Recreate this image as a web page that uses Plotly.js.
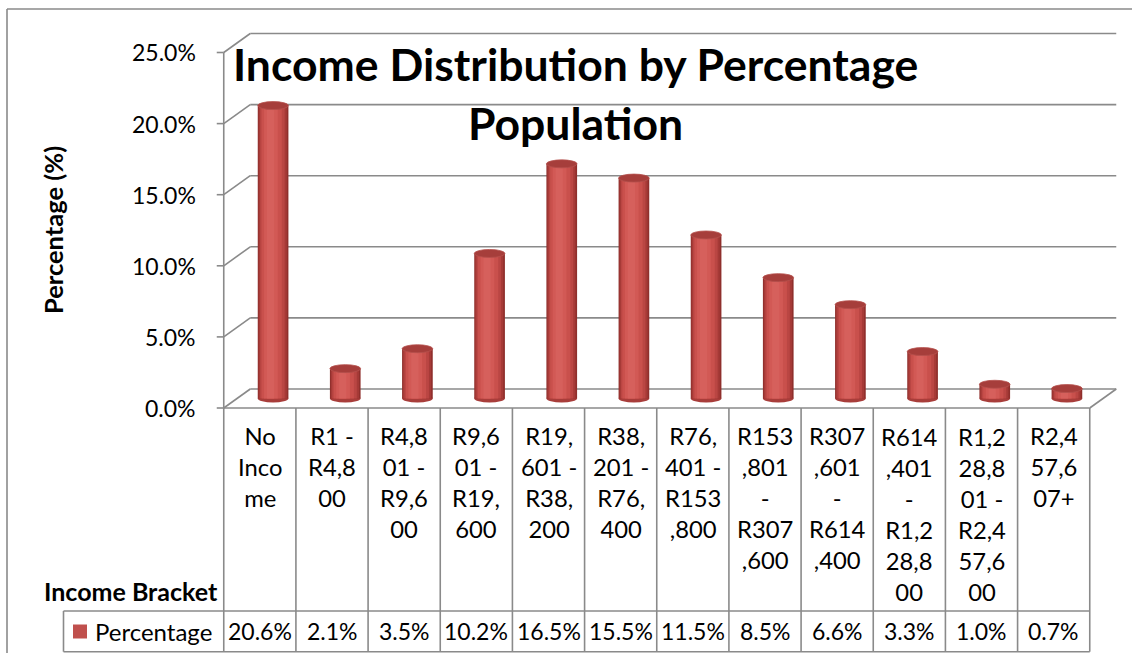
<!DOCTYPE html>
<html>
<head>
<meta charset="utf-8">
<script src="https://cdn.plot.ly/plotly-3.0.1.min.js"></script>
<style>html,body{margin:0;padding:0;background:#fff;}#chart{width:1132px;height:653px;}</style>
</head>
<body>
<div id="chart"></div>
<script>
// ---- data ----
const categories = ["No Income","R1 - R4,800","R4,801 - R9,600","R9,601 - R19,600","R19,601 - R38,200","R38,201 - R76,400","R76,401 - R153,800","R153,801 - R307,600","R307,601 - R614,400","R614,401 - R1,228,800","R1,228,801 - R2,457,600","R2,457,607+"];
const tickLabels = ["No<br>Inco<br>me","R1 -<br>R4,8<br>00","R4,8<br>01 -<br>R9,6<br>00","R9,6<br>01 -<br>R19,<br>600","R19,<br>601 -<br>R38,<br>200","R38,<br>201 -<br>R76,<br>400","R76,<br>401 -<br>R153<br>,800","R153<br>,801<br>-<br>R307<br>,600","R307<br>,601<br>-<br>R614<br>,400","R614<br>,401<br>-<br>R1,2<br>28,8<br>00","R1,2<br>28,8<br>01 -<br>R2,4<br>57,6<br>00","R2,4<br>57,6<br>07+"];
const percentages = [20.6, 2.1, 3.5, 10.2, 16.5, 15.5, 11.5, 8.5, 6.6, 3.3, 1.0, 0.7];
const yTicks = [0, 5, 10, 15, 20, 25];
const seriesName = "Percentage";

// ---- layout geometry ----
const W = 1132, H = 653;
const L = 237, R = 29, T = 43, B = 245;
const plotW = W - L - R, plotH = H - T - B;
const Y0 = 398.5;               // pixel of value 0 on the mid (bar) plane
const PPU = (Y0 - T) / 25;      // pixels per percent
const yMin = -((H - B) - Y0) / PPU;
const DX = 13.25, DY = 9.5;     // half depth offset
const colW = plotW / categories.length;
const n = categories.length;

const px2x = px => (px - L) / plotW;
const px2y = py => ((H - B) - py) / plotH;
const midY = v => Y0 - v * PPU;
const frontY = v => midY(v) + DY;
const backY = v => midY(v) - DY;
const frontXb = b => L - DX + b * colW;   // column boundary on front plane
const backXb = b => L + DX + b * colW;

const GRID = '#8a8a8a';
const FONT = 'Lato, "Open Sans", sans-serif';

const shapes = [];
function line(x0, y0, x1, y1, color, w, layer) {
  shapes.push({type: 'line', xref: 'paper', yref: 'paper',
    x0: px2x(x0), y0: px2y(y0), x1: px2x(x1), y1: px2y(y1),
    line: {color: color || GRID, width: w || 1.6}, layer: layer || 'below'});
}

// outer chart border
line(7, 9, 7, H + 2, '#8a8a8a', 1.6, 'above');
line(7, 9, W + 2, 9, '#8a8a8a', 1.6, 'above');

// walls / gridlines
yTicks.forEach(v => {
  line(frontXb(0), frontY(v), backXb(0), backY(v));
  line(backXb(0), backY(v), backXb(n), backY(v));
  line(frontXb(0) - 7, frontY(v), frontXb(0), frontY(v));
});
line(frontXb(0), frontY(25), frontXb(0), frontY(0));
line(frontXb(n), frontY(0), backXb(n), backY(0));

// data table
const rowTop = frontY(0), rowMid = 611, rowBot = 651.7, legLeft = 63.5;
for (let b = 0; b <= n; b++) line(frontXb(b), rowTop, frontXb(b), rowBot, GRID, 1.6, 'above');
line(frontXb(0), rowTop, frontXb(n), rowTop, GRID, 1.6, 'above');
line(legLeft, rowMid, frontXb(n), rowMid, GRID, 1.6, 'above');
line(legLeft, rowBot, frontXb(n), rowBot, GRID, 1.6, 'above');
line(legLeft, rowMid, legLeft, rowBot, GRID, 1.6, 'above');
// legend key
shapes.push({type: 'rect', xref: 'paper', yref: 'paper', x0: px2x(73), x1: px2x(87), y0: px2y(624.5), y1: px2y(638.5),
  fillcolor: '#c0504d', line: {width: 0}, layer: 'above'});

// cylinder caps
const halfW = 0.2125, capH = 4 / PPU;
percentages.forEach((v, i) => {
  shapes.push({type: 'circle', xref: 'x', yref: 'y', x0: i - halfW, x1: i + halfW, y0: -capH, y1: capH,
    fillcolor: '#a83d3a', line: {width: 0}, layer: 'below'});
  shapes.push({type: 'circle', xref: 'x', yref: 'y', x0: i - halfW, x1: i + halfW, y0: v - capH, y1: v + capH,
    fillcolor: '#a63e3b', line: {color: '#b5504c', width: 0.8}, layer: 'above'});
});

// bars: overlaid to imitate cylinder shading
const xs = categories.map((c, i) => i);
const shades = [
  {w: 0.425, shift: 0, c: '#8f2f2c'},
  {w: 0.39, shift: -0.005, c: '#a63a37'},
  {w: 0.34, shift: -0.01, c: '#ba4643'},
  {w: 0.28, shift: -0.02, c: '#c9504c'},
  {w: 0.19, shift: -0.03, c: '#d25955'},
  {w: 0.10, shift: -0.035, c: '#d6605c'}
];
const traces = shades.map(s => ({
  type: 'bar', x: xs, y: percentages, name: seriesName,
  width: s.w, offset: -s.w / 2 + s.shift,
  marker: {color: s.c, line: {width: 0}},
  hoverinfo: 'skip', showlegend: false
}));

// annotations
const annotations = [];
function txt(text, x, y, opt) {
  annotations.push(Object.assign({text: text, xref: 'paper', yref: 'paper', x: px2x(x), y: px2y(y),
    showarrow: false, xanchor: 'center', yanchor: 'middle',
    font: {family: FONT, size: 23, color: '#000'}}, opt || {}));
}
// title
txt('<b>Income Distribution by Percentage</b>', 575, 63, {font: {family: FONT, size: 44.5, color: '#000'}});
txt('<b>Population</b>', 575, 122, {font: {family: FONT, size: 44.5, color: '#000'}});
// y tick labels
yTicks.forEach(v => txt(v.toFixed(1) + '%', 198, frontY(v), {xanchor: 'right'}));
// y axis title
txt('<b>Percentage (%)</b>', 53, 230, {textangle: -90, font: {family: FONT, size: 25.5, color: '#000'}});
// category labels
tickLabels.forEach((t, i) => txt(t, frontXb(i) + colW / 2, 420.5, {yanchor: 'top', valign: 'top', font: {family: FONT, size: 23.8, color: '#000'}}));
// axis label
txt('<b>Income Bracket</b>', 220, 591, {xanchor: 'right', font: {family: FONT, size: 25, color: '#000'}});
// legend label + values
txt(seriesName, 93, 631, {xanchor: 'left', font: {family: FONT, size: 24, color: '#000'}});
percentages.forEach((v, i) => txt(v.toFixed(1) + '%', frontXb(i) + colW / 2, 631));

const layout = {
  width: W, height: H,
  margin: {l: L, r: R, t: T, b: B, pad: 0},
  paper_bgcolor: '#fff', plot_bgcolor: 'rgba(0,0,0,0)',
  barmode: 'overlay', showlegend: false,
  xaxis: {visible: false, range: [-0.5, n - 0.5], fixedrange: true},
  yaxis: {visible: false, range: [yMin, 25], fixedrange: true},
  shapes: shapes, annotations: annotations
};
Plotly.newPlot('chart', traces, layout, {displayModeBar: false, staticPlot: true});
</script>
</body>
</html>
